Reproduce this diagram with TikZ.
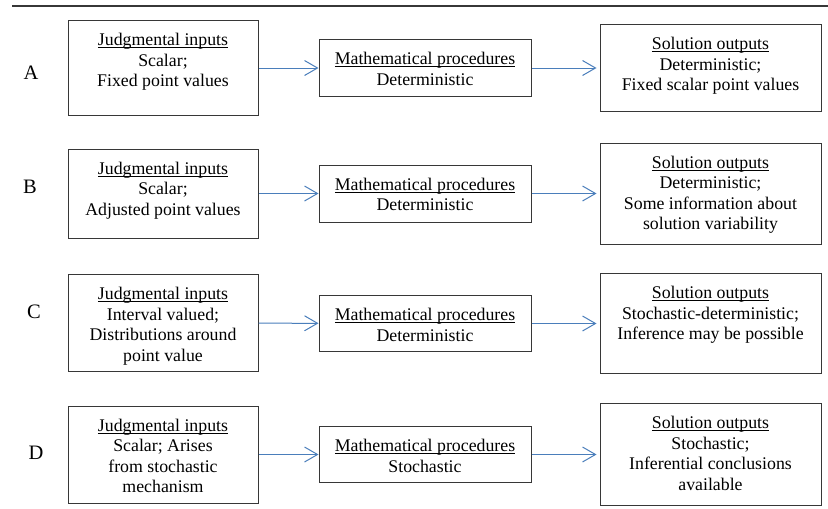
\documentclass[tikz,border=0pt]{standalone}
\usepackage{fontspec}
\setmainfont{Liberation Serif}
\usetikzlibrary{arrows.meta}

\definecolor{flowblue}{RGB}{74,126,187}
\definecolor{boxgray}{RGB}{55,55,55}

\newcommand\hdr[1]{\setbox0\hbox{#1}\rlap{\rule[-2.4pt]{\wd0}{0.9pt}}\box0}

\tikzset{
  stage/.style={draw=boxgray, line width=1pt, inner sep=0pt},
  stagetext/.style={anchor=north, align=center, inner sep=0pt, yshift=-13pt,
    font=\fontsize{17.8}{20.5}\selectfont},
  flow/.style={flowblue, line width=1pt, -{Straight Barb[length=13pt,width=15pt]}},
  rowlabel/.style={inner sep=0pt, font=\fontsize{20.5}{24}\selectfont}
}

\begin{document}
\begin{tikzpicture}[x=1pt,y=-1pt]
\useasboundingbox (0,0) rectangle (828,509);

    \draw [boxgray, line width=2.2pt] (12,6) -- (828,6);      % rule along the top

    % row A
    \node [rowlabel] (labA) at (31,73) {A};
    \node [stage, minimum width=190pt, minimum height=95pt] (inA) at (163,68) {};
    \node [stagetext] (inAtxt) at (inA.north) {\hdr{Judgmental inputs}\\Scalar;\\Fixed point values};
    \node [stage, minimum width=212pt, minimum height=57pt] (procA) at (425,68) {};
    \node [stagetext] (procAtxt) at (procA.north) {\hdr{Mathematical procedures}\\Deterministic};
    \node [stage, minimum width=221pt, minimum height=87pt] (outA) at (710.5,68) {};
    \node [stagetext] (outAtxt) at (outA.north) {\hdr{Solution outputs}\\Deterministic;\\Fixed scalar point values};
    \draw [flow] (inA) -- (procA);
    \draw [flow, shorten >=3pt] (procA) -- (outA);

    % row B
    \node [rowlabel] (labB) at (30,187) {B};
    \node [stage, minimum width=190pt, minimum height=89pt] (inB) at (163,193.5) {};
    \node [stagetext] (inBtxt) at (inB.north) {\hdr{Judgmental inputs}\\Scalar;\\Adjusted point values};
    \node [stage, minimum width=212pt, minimum height=57pt] (procB) at (425,193.5) {};
    \node [stagetext] (procBtxt) at (procB.north) {\hdr{Mathematical procedures}\\Deterministic};
    \node [stage, minimum width=221pt, minimum height=101pt] (outB) at (710.5,193.5) {};
    \node [stagetext] (outBtxt) at (outB.north) {\hdr{Solution outputs}\\Deterministic;\\Some information about\\solution variability};
    \draw [flow] (inB) -- (procB);
    \draw [flow, shorten >=3pt] (procB) -- (outB);

    % row C
    \node [rowlabel] (labC) at (34,312) {C};
    \node [stage, minimum width=190pt, minimum height=97pt] (inC) at (163,323) {};
    \node [stagetext] (inCtxt) at (inC.north) {\hdr{Judgmental inputs}\\Interval valued;\\Distributions around\\point value};
    \node [stage, minimum width=212pt, minimum height=56pt] (procC) at (425,323.5) {};
    \node [stagetext] (procCtxt) at (procC.north) {\hdr{Mathematical procedures}\\Deterministic};
    \node [stage, minimum width=221pt, minimum height=100pt] (outC) at (710.5,323.5) {};
    \node [stagetext] (outCtxt) at (outC.north) {\hdr{Solution outputs}\\Stochastic-deterministic;\\Inference may be possible};
    \draw [flow] (inC) -- (procC);
    \draw [flow, shorten >=3pt] (procC) -- (outC);

    % row D
    \node [rowlabel] (labD) at (36,453) {D};
    \node [stage, minimum width=190pt, minimum height=97pt] (inD) at (163,454.5) {};
    \node [stagetext] (inDtxt) at (inD.north) {\hdr{Judgmental inputs}\\Scalar; Arises\\from stochastic\\mechanism};
    \node [stage, minimum width=212pt, minimum height=56pt] (procD) at (425,454.5) {};
    \node [stagetext] (procDtxt) at (procD.north) {\hdr{Mathematical procedures}\\Stochastic};
    \node [stage, minimum width=221pt, minimum height=102pt] (outD) at (710.5,454.5) {};
    \node [stagetext] (outDtxt) at (outD.north) {\hdr{Solution outputs}\\Stochastic;\\Inferential conclusions\\available};
    \draw [flow] (inD) -- (procD);
    \draw [flow, shorten >=3pt] (procD) -- (outD);

\end{tikzpicture}
\end{document}
